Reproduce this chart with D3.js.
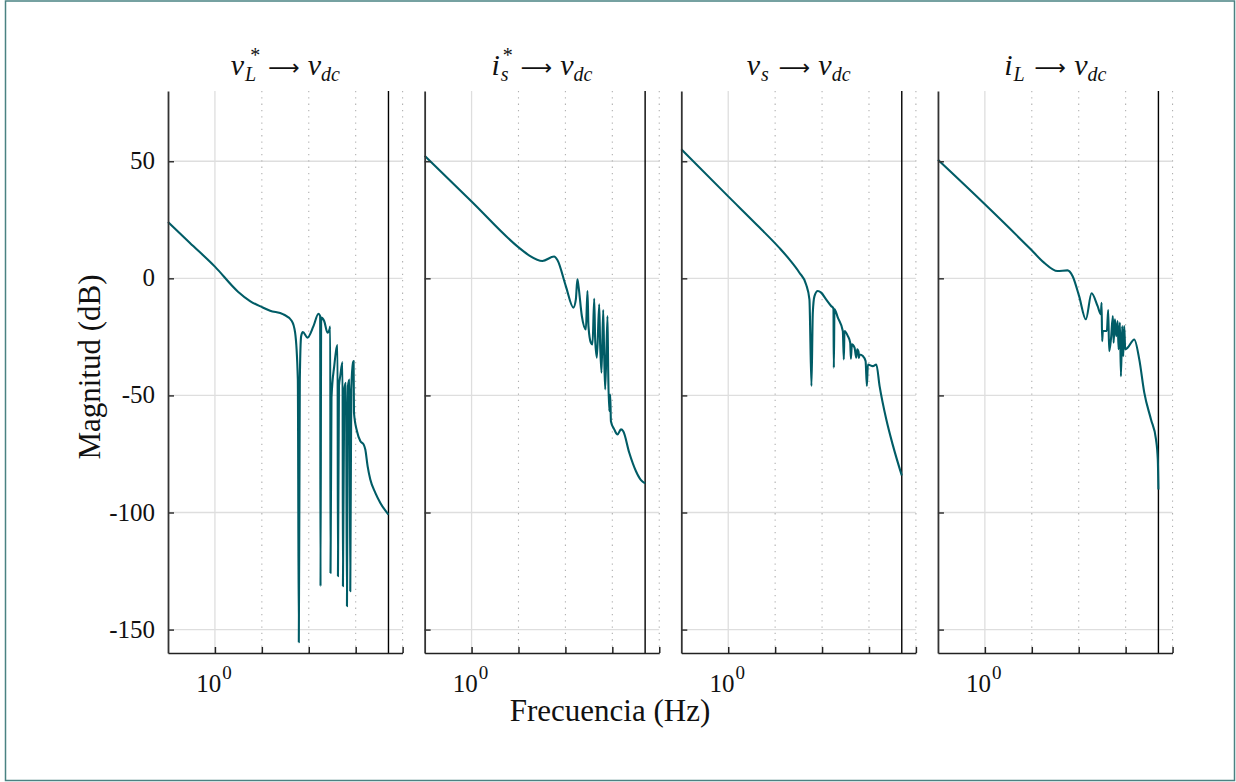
<!DOCTYPE html>
<html><head><meta charset="utf-8">
<script src="https://cdn.jsdelivr.net/npm/d3@7"></script>
<style>body{margin:0;background:#fff} text{font-family:'Liberation Serif','Times New Roman',serif}</style>
</head><body>
<svg id="c" width="1236" height="782"></svg>
<script>
// ---- data ----
const titleBase = ["v", "i", "v", "i"];
const titleSub = ["L", "s", "s", "L"];
const titleSup = ["*", "*", "", ""];
const targetBase = "v", targetSub = "dc";

const freq1 = [0.1,0.29,1,3.1,5.6,10.1,15,28.8,43.5,51.2,58.5,61.4,64.5,68.8,74.8,93.8,126,161,175,178,184,213,251,277,287,291,305,349,411,419,440,469,525,535,571,621,652,685,741,767,806,876,902,920,1067,1254,1475,1604,1795,2050,2624,3356,5000];
const mag1 = [24.1,15.2,5.0,-5.7,-9.7,-12.3,-13.8,-15.4,-18.2,-23.2,-43.2,-155.4,-43.2,-24.7,-22.9,-25.3,-20.4,-15.1,-16.1,-131.5,-16.8,-18.2,-23.2,-21.8,-20.6,-125.8,-51.0,-37.5,-28.5,-127.2,-46.0,-41.8,-35.8,-131.5,-47.4,-44.6,-140.0,-46.0,-43.2,-133.6,-47.4,-36.0,-35.3,-57.4,-65.3,-69.5,-70.9,-73.1,-80.2,-85.9,-91.6,-95.9,-100.9];

const freq2 = [0.1,1,10.2,16.8,32.3,57.4,67.5,102,148,167,180,190,224,273,295,310,349,378,411,431,469,525,551,588,639,671,705,789,817,859,902,933,1099,1291,1528,1710,2296,3192,4083,5000];
const mag2 = [52.3,32.8,13.1,9.8,7.4,9.3,7.8,-3.3,-12.5,-9.0,-0.4,-3.3,-16.1,-21.8,-5.4,-20.4,-27.5,-28.2,-8.7,-26.1,-33.9,-11.1,-28.9,-40.3,-13.5,-33.2,-47.4,-16.1,-40.3,-56.7,-49.6,-61.0,-64.5,-66.7,-64.5,-65.3,-74.5,-82.4,-86.2,-87.6];

const freq3 = [0.1,1,4.6,12.3,20.1,32.9,45.7,53.8,59.4,63.5,68.9,81,95.6,122,156,175,178,184,217,277,291,301,355,398,412,432,492,536,562,600,610,630,741,846,902,947,1211,1432,1684,2342,3192,5000];
const mag3 = [55.1,35.0,21.8,13.0,8.1,2.4,-2.6,-9.0,-46.0,-14.7,-7.6,-5.4,-6.1,-9.0,-11.8,-12.9,-38.2,-13.2,-16.8,-22.5,-34.6,-22.5,-24.7,-27.5,-34.3,-28.2,-29.6,-33.9,-30.3,-31.5,-34.0,-32.5,-33.2,-35.3,-46.0,-36.8,-37.5,-36.8,-46.0,-60.3,-70.9,-84.2];

const freq4 = [0.1,1,9.5,18.2,35.2,57.7,73.8,102,142,188,252,297,307,316,327,398,425,446,486,535,554,591,630,675,708,755,794,846,889,934,980,1104,1529,1954,2497,3473,4439,4850,5000];
const mag4 = [50.6,31.6,12.4,6.7,3.1,3.4,1.0,-7.6,-17.5,-6.4,-11.8,-15.4,-10.4,-26.8,-22.5,-22.5,-13.5,-31.1,-26.1,-16.1,-27.5,-17.5,-24.7,-18.2,-30.3,-18.9,-41.8,-20.4,-33.2,-20.4,-30.3,-29.6,-26.1,-34.6,-48.8,-60.3,-68.8,-77.4,-90.2];

const freqs = [freq1, freq2, freq3, freq4];
const mags = [mag1, mag2, mag3, mag4];

const yTicks = [50, 0, -50, -100, -150];
const yTickLabels = ["50", "0", "-50", "-100", "-150"];
const xMajor = [1];
const xMinor = [10, 100, 1000, 10000];
const xTickLabelBase = "10", xTickLabelExp = "0";
const nyquist = 5000;
const xDomain = [0.1, 10000];
const yDomain = [-160, 80];
const xLabel = "Frecuencia (Hz)";
const yLabel = "Magnitud (dB)";

// ---- layout ----
const svg = d3.select("#c");
const W = 1236, H = 782;
const plotTop = 91, plotBottom = 653;
const pw = 234.6, pstep = 256.65, left0 = 168;
const lineColor = "#005c66";
const serif = "'Liberation Serif', 'Times New Roman', serif";

svg.append("rect").attr("x", 5.5).attr("y", 1).attr("width", W - 7).attr("height", H - 2.5)
  .attr("fill", "#fff").attr("stroke", "#4a8282").attr("stroke-width", 1.5);

const y = d3.scaleLinear().domain(yDomain).range([plotBottom, plotTop]);

for (let i = 0; i < 4; i++) {
  const L = left0 + i * pstep;
  const x = d3.scaleLog().domain(xDomain).range([L, L + pw]);
  const g = svg.append("g");

  // grid
  g.selectAll(".hg").data(yTicks).join("line")
    .attr("x1", L).attr("x2", L + pw).attr("y1", d => y(d)).attr("y2", d => y(d))
    .attr("stroke", "#dedede").attr("stroke-width", 1.3);
  g.selectAll(".vg").data(xMajor).join("line")
    .attr("x1", d => x(d)).attr("x2", d => x(d)).attr("y1", plotTop).attr("y2", plotBottom)
    .attr("stroke", "#dedede").attr("stroke-width", 1.3);
  g.selectAll(".vm").data(xMinor).join("line")
    .attr("x1", d => x(d)).attr("x2", d => x(d)).attr("y1", plotTop).attr("y2", plotBottom)
    .attr("stroke", "#b0b0b0").attr("stroke-width", 1.1).attr("stroke-dasharray", "1.3,5");

  // nyquist line
  g.append("line").attr("x1", x(nyquist)).attr("x2", x(nyquist)).attr("y1", plotTop).attr("y2", plotBottom)
    .attr("stroke", "#000").attr("stroke-width", 1.4);

  // curve
  const pts = freqs[i].map((f, k) => ({ f, m: mags[i][k] })).filter(d => d.m !== undefined);
  g.append("path").datum(pts)
    .attr("fill", "none").attr("stroke", lineColor).attr("stroke-width", 2.1)
    .attr("stroke-linejoin", "round")
    .attr("d", d3.line().x(d => x(d.f)).y(d => y(d.m)).curve(d3.curveMonotoneX));

  // axes
  const ya = g.append("g").attr("transform", `translate(${L},0)`)
    .call(d3.axisRight(y).tickValues(yTicks).tickSize(6).tickSizeOuter(0).tickFormat(""));
  ya.select(".domain").attr("stroke", "#333").attr("stroke-width", 1.8);
  ya.selectAll(".tick line").attr("stroke", "#333").attr("stroke-width", 1.5);

  const xa = g.append("g").attr("transform", `translate(0,${plotBottom})`)
    .call(d3.axisTop(x).tickValues(xMajor.concat(xMinor)).tickSize(6).tickSizeOuter(0).tickFormat(""));
  xa.select(".domain").attr("stroke", "#222").attr("stroke-width", 1.6);
  xa.selectAll(".tick line").attr("stroke", "#222").attr("stroke-width", 1.5);

  // x tick labels
  xMajor.forEach(v => {
    const t = g.append("text").attr("x", x(v) - 1).attr("y", 692)
      .attr("text-anchor", "middle").style("font-family", serif).attr("font-size", 25).attr("fill", "#111");
    t.append("tspan").text(xTickLabelBase);
    t.append("tspan").attr("dy", -13).attr("dx", 1).attr("font-size", 19).text(xTickLabelExp);
  });

  // y tick labels (first panel only)
  if (i === 0) {
    g.selectAll(".yl").data(yTicks).join("text")
      .attr("x", L - 13).attr("y", d => y(d) + 8)
      .attr("text-anchor", "end").style("font-family", serif).attr("font-size", 25).attr("fill", "#111")
      .text((d, k) => yTickLabels[k]);
  }

  // title
  const cx = L + pw / 2;
  const t = svg.append("text").attr("x", cx).attr("y", 75).attr("text-anchor", "middle")
    .style("font-family", serif).attr("font-size", 30).attr("fill", "#111");
  t.append("tspan").attr("font-style", "italic").text(titleBase[i]);
  t.append("tspan").attr("font-style", "italic").attr("font-size", 20).attr("dx", 1).attr("dy", 6).text(titleSub[i]);
  if (titleSup[i]) {
    t.append("tspan").attr("font-size", 20).attr("dx", -6).attr("dy", -19).text(titleSup[i]);
    t.append("tspan").attr("dy", 13).attr("dx", 8).style("font-family", "'DejaVu Sans'").attr("font-size", 22).text("\u27F6");
  } else {
    t.append("tspan").attr("dy", -6).attr("dx", 10).style("font-family", "'DejaVu Sans'").attr("font-size", 22).text("\u27F6");
  }
  t.append("tspan").attr("dx", 8).attr("font-style", "italic").text(targetBase);
  t.append("tspan").attr("font-style", "italic").attr("font-size", 20).attr("dy", 6).attr("dx", 0).text(targetSub);
}

// axis labels
svg.append("text").attr("x", 610).attr("y", 721).attr("text-anchor", "middle")
  .style("font-family", serif).attr("font-size", 31).attr("fill", "#111").text(xLabel);
svg.append("text").attr("transform", "translate(100,367) rotate(-90)").attr("text-anchor", "middle")
  .style("font-family", serif).attr("font-size", 31).attr("fill", "#111").text(yLabel);
</script>
</body></html>
